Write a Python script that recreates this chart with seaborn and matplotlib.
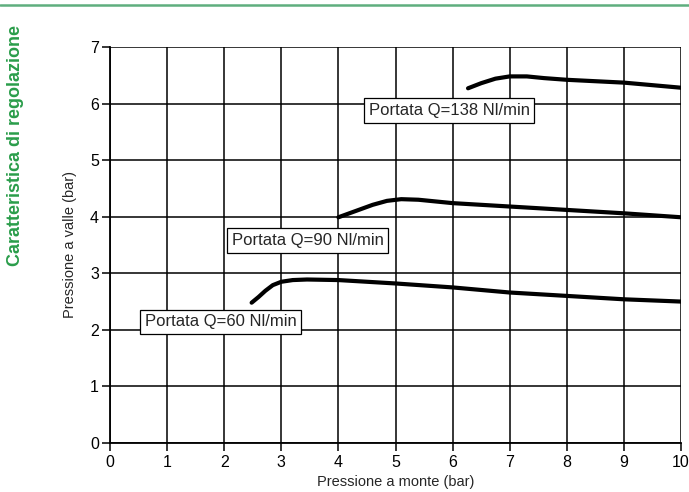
import pandas as pd
import matplotlib
matplotlib.use("Agg")
import matplotlib.pyplot as plt
import matplotlib.lines as mlines
import seaborn as sns

# Curves (pressione a monte -> pressione a valle)
x_138 = [6.27, 6.5, 6.75, 7.0, 7.3, 7.6, 8.0, 9.0, 10.0]
y_138 = [6.27, 6.36, 6.44, 6.48, 6.48, 6.45, 6.42, 6.37, 6.28]

x_90 = [4.0, 4.3, 4.6, 4.85, 5.1, 5.4, 5.7, 6.0, 7.0, 8.0, 9.0, 10.0]
y_90 = [3.99, 4.10, 4.21, 4.28, 4.31, 4.30, 4.27, 4.24, 4.18, 4.12, 4.06, 3.99]

x_60 = [2.48, 2.6, 2.72, 2.85, 3.0, 3.2, 3.45, 4.0, 5.0, 6.0, 7.0, 8.0, 9.0, 10.0]
y_60 = [2.48, 2.58, 2.69, 2.79, 2.85, 2.88, 2.89, 2.88, 2.82, 2.75, 2.66, 2.60, 2.54, 2.50]

series_names = ["Portata Q=138 Nl/min", "Portata Q=90 Nl/min", "Portata Q=60 Nl/min"]
label_pos = [(5.94, 5.88), (3.46, 3.58), (1.94, 2.14)]

x_ticks = list(range(0, 11))
y_ticks = list(range(0, 8))

frames = []
for name, xs, ys in zip(series_names, [x_138, x_90, x_60], [y_138, y_90, y_60]):
    frames.append(pd.DataFrame({"monte": xs, "valle": ys, "serie": name}))
df = pd.concat(frames, ignore_index=True)

sns.set_style("white")
plt.rcParams["font.family"] = ["Liberation Sans", "DejaVu Sans"]

fig = plt.figure(figsize=(6.89, 4.92), dpi=100)
ax = fig.add_axes([0.1597, 0.0996, 0.9884 - 0.1597, 0.9045 - 0.0996])

sns.lineplot(data=df, x="monte", y="valle", hue="serie", sort=False,
             palette=["black"] * 3, linewidth=3.0, legend=False, ax=ax,
             solid_capstyle="round", solid_joinstyle="round", estimator=None)

ax.set_xlim(0, 10)
ax.set_ylim(0, 7)
ax.set_xticks(x_ticks)
ax.set_yticks(y_ticks)
ax.grid(True, color="black", linewidth=1.1)
ax.set_axisbelow(True)

for side in ["top", "right"]:
    ax.spines[side].set_visible(False)
for side in ["left", "bottom"]:
    ax.spines[side].set_color("black")
    ax.spines[side].set_linewidth(1.3)

ax.tick_params(axis="both", direction="out", length=6, width=1.1,
               colors="black", labelsize=11.5)
ax.tick_params(axis="x", bottom=True, pad=3)
ax.tick_params(axis="y", left=True, pad=2)

ax.set_xlabel("Pressione a monte (bar)", fontsize=10.5, labelpad=3)
ax.set_ylabel("Pressione a valle (bar)", fontsize=10.5, labelpad=9)

for name, (lx, ly) in zip(series_names, label_pos):
    ax.text(lx, ly, name, ha="center", va="center", fontsize=12,
            bbox=dict(boxstyle="square,pad=0.28", facecolor="white",
                      edgecolor="black", linewidth=0.9), zorder=5)

# green header line and side title
fig.add_artist(mlines.Line2D([0, 1], [1 - 5 / 492, 1 - 5 / 492],
                             color="#5fae7e", linewidth=1.8))
fig.text(16 / 689, 1 - 145 / 492, "Caratteristica di regolazione",
         rotation=90, ha="center", va="center", color="#2a9d4a",
         fontsize=13, fontweight="bold")

fig.savefig("out.png", dpi=100)
